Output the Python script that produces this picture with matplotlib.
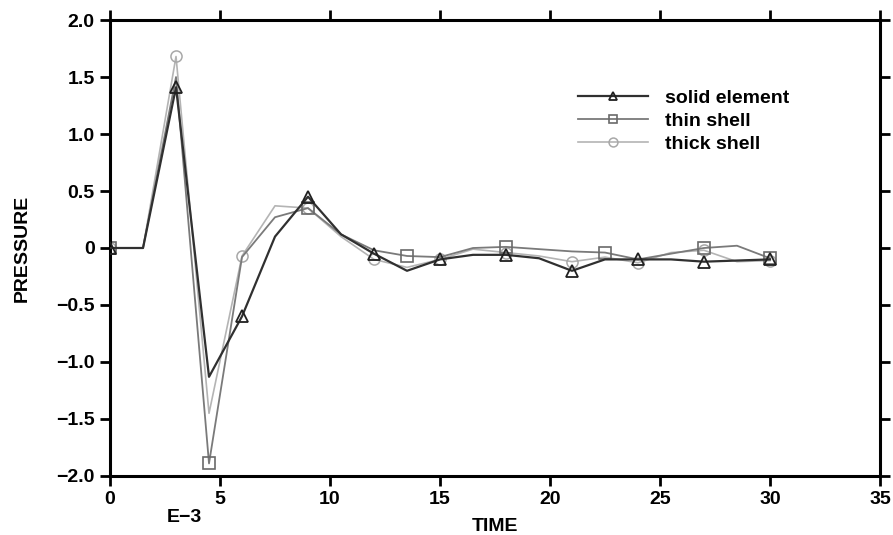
import matplotlib
matplotlib.use("Agg")
import matplotlib.pyplot as plt
from matplotlib.ticker import FixedLocator, FuncFormatter

plt.rcParams['font.family'] = ['Liberation Sans Narrow', 'Liberation Sans', 'DejaVu Sans']
plt.rcParams['font.weight'] = 'bold'

# sample times (units of 1e-3)
time = [0, 1.5, 3, 4.5, 6, 7.5, 9, 10.5, 12, 13.5, 15, 16.5, 18, 19.5, 21,
        22.5, 24, 25.5, 27, 28.5, 30]

solid_element = [0, 0, 1.41, -1.13, -0.60, 0.10, 0.45, 0.12, -0.05, -0.20, -0.10,
                 -0.06, -0.06, -0.09, -0.20, -0.10, -0.10, -0.10, -0.12, -0.11, -0.10]
thin_shell = [0, 0, 1.50, -1.89, -0.08, 0.27, 0.35, 0.12, -0.02, -0.07, -0.08,
              0.00, 0.01, -0.01, -0.03, -0.04, -0.10, -0.05, 0.00, 0.02, -0.09]
thick_shell = [0, 0, 1.68, -1.45, -0.07, 0.37, 0.35, 0.10, -0.10, -0.17, -0.10,
               -0.01, -0.04, -0.07, -0.12, -0.08, -0.13, -0.04, -0.02, -0.12, -0.11]

series_names = ["solid element", "thin shell", "thick shell"]

x_ticks = [0, 5, 10, 15, 20, 25, 30, 35]
y_ticks = [-2.0, -1.5, -1.0, -0.5, 0, 0.5, 1.0, 1.5, 2.0]

fig = plt.figure(figsize=(8.93, 5.35), dpi=100)
ax = fig.add_axes([0.1232, 0.1103, 0.8622, 0.8523])

ax.plot(time, solid_element, color='#303030', lw=1.6, marker='^', ms=8,
        mfc='none', mec='#202020', mew=1.3, markevery=list(range(0, 21, 2)),
        label=series_names[0], zorder=3)
ax.plot(time, thin_shell, color='#7a7a7a', lw=1.3, marker='s', ms=8,
        mfc='none', mec='#6a6a6a', mew=1.2, markevery=list(range(0, 21, 3)) + [20],
        label=series_names[1], zorder=2)
ax.plot(time, thick_shell, color='#b4b4b4', lw=1.2, marker='o', ms=8,
        mfc='none', mec='#a8a8a8', mew=1.1, markevery=list(range(0, 21, 2)),
        label=series_names[2], zorder=1)

ax.set_xlim(0, 35)
ax.set_ylim(-2.0, 2.0)
ax.xaxis.set_major_locator(FixedLocator(x_ticks))
ax.yaxis.set_major_locator(FixedLocator(y_ticks))


def yfmt(v, pos):
    if abs(v) < 1e-9:
        return "0"
    return f"{v:.1f}".replace("-", "\u2212")


ax.yaxis.set_major_formatter(FuncFormatter(yfmt))
ax.xaxis.set_major_formatter(FuncFormatter(lambda v, p: f"{v:.0f}"))

for s in ax.spines.values():
    s.set_linewidth(2.2)
ax.tick_params(axis='both', which='major', direction='out', length=7, width=2,
               labelsize=14, top=True, right=True, pad=4)
for lab in ax.get_xticklabels() + ax.get_yticklabels():
    lab.set_fontweight('bold')

ax.set_xlabel("TIME", fontsize=14, fontweight='bold', labelpad=7)
ax.set_ylabel("PRESSURE", fontsize=14, fontweight='bold', labelpad=18)
ax.text(0.097, -0.09, "E\u22123", transform=ax.transAxes, fontsize=14,
        fontweight='bold', ha='center', va='center')

leg = ax.legend(loc='upper left', bbox_to_anchor=(0.585, 0.886), frameon=False,
                handlelength=3.6, handletextpad=0.9, labelspacing=0.28,
                prop={'weight': 'bold', 'size': 14, 'family': ['Liberation Sans', 'DejaVu Sans']},
                markerscale=0.8)

fig.savefig("out.png", dpi=100)
